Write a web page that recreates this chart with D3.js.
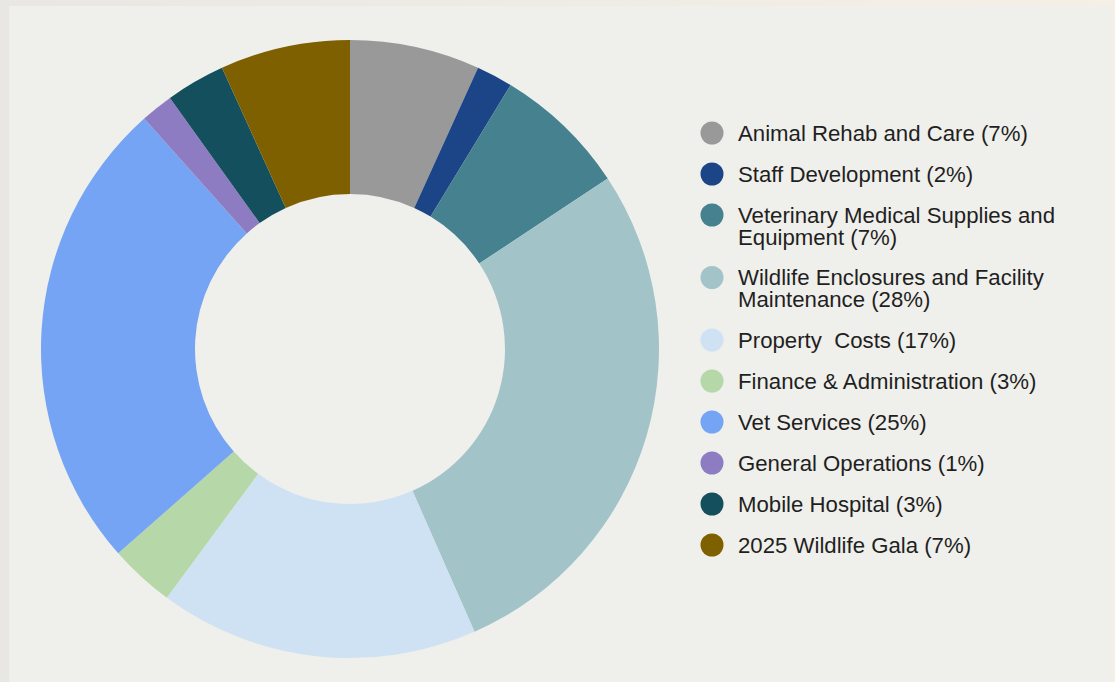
<!DOCTYPE html>
<html>
<head>
<meta charset="utf-8">
<script src="https://cdn.jsdelivr.net/npm/d3@7"></script>
<style>
  html, body { margin: 0; padding: 0; }
  body { width: 1115px; height: 682px; overflow: hidden;
         background: linear-gradient(to right, #e8e7e3, #f5f0e6); }
</style>
</head>
<body>
<div id="container"></div>
<script>
const WIDTH = 1115;
const HEIGHT = 682;

// slices, clockwise from 12 o'clock (share of budget, %)
var categories = ["Animal Rehab and Care", "Staff Development",
    "Veterinary Medical Supplies and Equipment",
    "Wildlife Enclosures and Facility Maintenance",
    "Property  Costs", "Finance & Administration", "Vet Services",
    "General Operations", "Mobile Hospital", "2025 Wildlife Gala"];
var values = [6.8, 1.9, 7.0, 27.7, 16.7, 3.4, 24.9, 1.7, 3.1, 6.8];
var pctLabels = ["7%", "2%", "7%", "28%", "17%", "3%", "25%", "1%", "3%", "7%"];
var colors = ["#999999", "#1c4587", "#45818e", "#a2c4c9", "#cfe2f3",
    "#b6d7a8", "#74a4f3", "#8e7cc3", "#134f5c", "#7f6000"];

var translate = function (x, y) {
    return "translate(" + x + "," + y + ")";
};

var createChart = function () {
    var svg = d3.select("#container")
        .append("svg")
        .attr("width", WIDTH)
        .attr("height", HEIGHT)
        .style("display", "block");

    // inner panel
    svg.append("rect")
        .attr("x", 9).attr("y", 6)
        .attr("width", 1103).attr("height", HEIGHT - 6)
        .attr("fill", "#efefeb");

    var data = categories.map(function (c, i) {
        return {name: c, value: values[i], pct: pctLabels[i], color: colors[i]};
    });

    var pie = d3.pie().sort(null).value(function (d) { return d.value; });
    var arc = d3.arc().innerRadius(155).outerRadius(309);

    var g = svg.append("g").attr("transform", translate(350, 349));
    g.selectAll("path").data(pie(data))
        .enter()
        .append("path")
        .attr("d", arc)
        .attr("fill", function (d) { return d.data.color; });

    // legend
    var legend = svg.append("g").attr("transform", translate(712, 133));
    var maxW = 340, lineH = 22, step = 41;
    var y = 0;
    data.forEach(function (d) {
        var item = legend.append("g").attr("transform", translate(0, y));
        item.append("circle").attr("r", 11.5).attr("fill", d.color);
        var text = item.append("text")
            .attr("x", 26)
            .attr("font-family", "Liberation Sans, Arial, sans-serif")
            .attr("font-size", 22.2)
            .attr("fill", "#1f1f1f");
        var words = (d.name + " (" + d.pct + ")").split(" ");
        var lines = [], cur = "";
        var probe = text.append("tspan");
        words.forEach(function (w) {
            var tryLine = cur === "" ? w : cur + " " + w;
            probe.text(tryLine);
            if (probe.node().getComputedTextLength() > maxW && cur !== "") {
                lines.push(cur);
                cur = w;
            } else {
                cur = tryLine;
            }
        });
        lines.push(cur);
        probe.remove();
        lines.forEach(function (l, i) {
            text.append("tspan")
                .attr("x", 26)
                .attr("y", i * lineH + 7.7)
                .style("white-space", "pre")
                .text(l);
        });
        y += step + (lines.length - 1) * (lineH - 0.5);
    });
};

window.onload = createChart;
</script>
</body>
</html>
